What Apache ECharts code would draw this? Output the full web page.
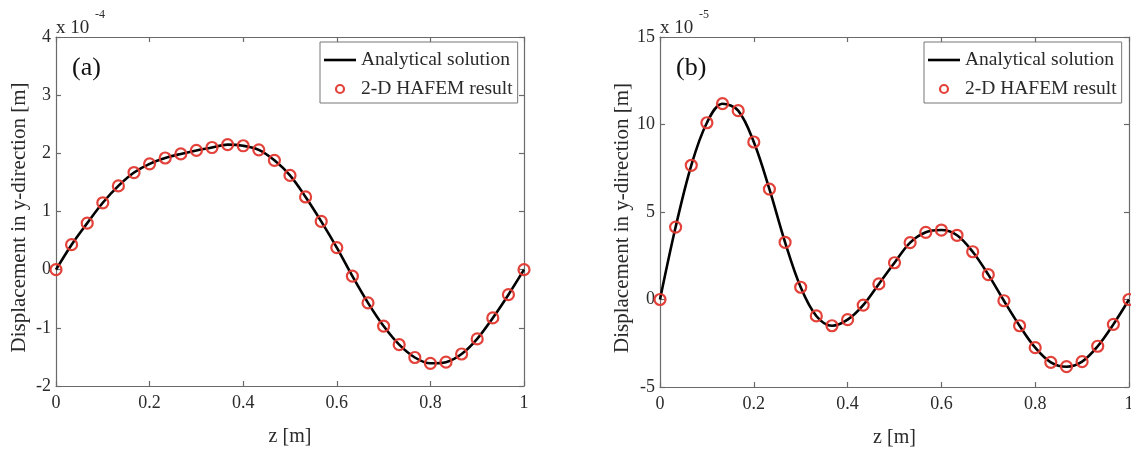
<!DOCTYPE html>
<html>
<head>
<meta charset="utf-8">
<script src="https://cdn.jsdelivr.net/npm/echarts@6/dist/echarts.min.js"></script>
<style>
  html, body { margin: 0; padding: 0; background: #ffffff; }
  #chart { width: 1131px; height: 449px; }
</style>
</head>
<body>
<div id="chart"></div>
<script>
// z positions along the beam [m]
const zValues = [0, 0.0333, 0.0667, 0.1, 0.1333, 0.1667, 0.2, 0.2333, 0.2667, 0.3, 0.3333,
  0.3667, 0.4, 0.4333, 0.4667, 0.5, 0.5333, 0.5667, 0.6, 0.6333, 0.6667,
  0.7, 0.7333, 0.7667, 0.8, 0.8333, 0.8667, 0.9, 0.9333, 0.9667, 1];
// Panel (a): displacement in y-direction, units of 1e-4 m
const dispA = [0, 0.43, 0.80, 1.15, 1.44, 1.67, 1.82, 1.92, 1.99, 2.05, 2.10,
  2.15, 2.13, 2.06, 1.88, 1.62, 1.25, 0.83, 0.38, -0.11, -0.57,
  -0.97, -1.29, -1.51, -1.61, -1.59, -1.45, -1.19, -0.83, -0.43, 0];
// Panel (b): displacement in y-direction, units of 1e-5 m
const dispB = [0, 4.14, 7.67, 10.1, 11.19, 10.79, 9.0, 6.31, 3.27, 0.70, -0.94,
  -1.50, -1.15, -0.32, 0.89, 2.10, 3.25, 3.84, 3.97, 3.67, 2.73,
  1.42, -0.07, -1.50, -2.75, -3.59, -3.84, -3.55, -2.67, -1.42, 0];

const xTicks = [0, 0.2, 0.4, 0.6, 0.8, 1];
const yRangeA = { min: -2, max: 4, interval: 1 };
const yRangeB = { min: -5, max: 15, interval: 5 };
const seriesNames = ['Analytical solution', '2-D HAFEM result'];
const panelLabels = ['(a)', '(b)'];
const exponents = ['-4', '-5'];
const xTitle = 'z [m]';
const yTitle = 'Displacement in y-direction [m]';

const FONT = "'Liberation Serif', 'Times New Roman', serif";
const AXIS_COLOR = '#6a6a6a';
const TEXT_COLOR = '#2a2a2a';
const RED = '#e2382f';

function pairs(ys) { return zValues.map((z, i) => [z, ys[i]]); }

const chart = echarts.init(document.getElementById('chart'), null, { renderer: 'canvas' });

const grids = [
  { left: 56, top: 37, width: 468, height: 349 },
  { left: 660, top: 37, width: 469, height: 350 }
];

function xAxes(gi) {
  const base = {
    gridIndex: gi, type: 'value', min: 0, max: 1, interval: 0.2,
    splitLine: { show: false },
    axisLine: { show: true, onZero: false, lineStyle: { color: AXIS_COLOR, width: 1.2 } },
    axisTick: { show: true, inside: true, length: 5, lineStyle: { color: AXIS_COLOR, width: 1.2 } }
  };
  return [
    Object.assign({}, base, {
      position: 'bottom',
      name: xTitle, nameLocation: 'middle', nameGap: 41,
      nameTextStyle: { fontFamily: FONT, fontSize: 20, color: TEXT_COLOR },
      axisLabel: {
        show: true, margin: 8, fontFamily: FONT, fontSize: 18, color: TEXT_COLOR,
        formatter: v => { const t = xTicks.find(x => Math.abs(x - v) < 1e-9); return t === undefined ? '' : String(t); }
      }
    }),
    Object.assign({}, base, { position: 'top', axisLabel: { show: false } })
  ];
}

function yAxes(gi, r) {
  const base = {
    gridIndex: gi, type: 'value', min: r.min, max: r.max, interval: r.interval,
    splitLine: { show: false },
    axisLine: { show: true, onZero: false, lineStyle: { color: AXIS_COLOR, width: 1.2 } },
    axisTick: { show: true, inside: true, length: 5, lineStyle: { color: AXIS_COLOR, width: 1.2 } }
  };
  return [
    Object.assign({}, base, {
      position: 'left',
      name: yTitle, nameLocation: 'middle', nameGap: 26,
      nameTextStyle: { fontFamily: FONT, fontSize: 21, color: TEXT_COLOR, padding: [0, 12, 0, 0] },
      axisLabel: { show: true, margin: 5, fontFamily: FONT, fontSize: 18, color: TEXT_COLOR, padding: [6, 0, 0, 0] }
    }),
    Object.assign({}, base, { position: 'right', axisLabel: { show: false } })
  ];
}

function panelSeries(gi, ys) {
  return [
    {
      name: seriesNames[0], type: 'line', xAxisIndex: gi * 2, yAxisIndex: gi * 2,
      data: pairs(ys), smooth: 0.35, showSymbol: false, symbol: 'none',
      lineStyle: { color: '#000000', width: 2.6 }, itemStyle: { color: '#000000' },
      z: 2, silent: true, animation: false
    },
    {
      name: seriesNames[1], type: 'scatter', xAxisIndex: gi * 2, yAxisIndex: gi * 2,
      data: pairs(ys), symbol: 'circle', symbolSize: 11,
      itemStyle: { color: 'rgba(255,255,255,0)', borderColor: RED, borderWidth: 2.2, opacity: 0.95 },
      z: 3, silent: true, animation: false
    }
  ];
}

function legendFor(left) {
  return {
    left: left, top: 42, orient: 'vertical',
    data: [
      { name: seriesNames[0], icon: 'path://M0,0 L32,0 L32,2.6 L0,2.6 Z', itemStyle: { color: '#000' } },
      { name: seriesNames[1], icon: 'circle', itemStyle: { color: '#ffffff', borderColor: RED, borderWidth: 2.2 } }
    ],
    itemWidth: 32, itemHeight: 8, itemGap: 9,
    padding: [8, 5, 4, 4],
    borderColor: '#777', borderWidth: 1, backgroundColor: '#ffffff',
    textStyle: { fontFamily: FONT, fontSize: 19.5, color: TEXT_COLOR },
    selectedMode: false
  };
}

function graphicsFor(gi) {
  const g = grids[gi];
  return [
    { type: 'text', left: g.left + 16, top: 55, style: { text: panelLabels[gi], font: '26px ' + FONT, fill: '#111' } },
    { type: 'text', left: g.left, top: 19, style: { text: 'x 10', font: '19px ' + FONT, fill: TEXT_COLOR } },
    { type: 'text', left: g.left + 39, top: 9, style: { text: exponents[gi], font: '12px ' + FONT, fill: TEXT_COLOR } }
  ];
}

const option = {
  backgroundColor: '#ffffff',
  animation: false,
  grid: grids.map(g => Object.assign({ show: false, containLabel: false, outerBoundsMode: 'none' }, g)),
  xAxis: [...xAxes(0), ...xAxes(1)],
  yAxis: [...yAxes(0, yRangeA), ...yAxes(1, yRangeB)],
  legend: [legendFor(320), legendFor(924)],
  series: [...panelSeries(0, dispA), ...panelSeries(1, dispB)],
  graphic: [...graphicsFor(0), ...graphicsFor(1)]
};

chart.setOption(option);
</script>
</body>
</html>
